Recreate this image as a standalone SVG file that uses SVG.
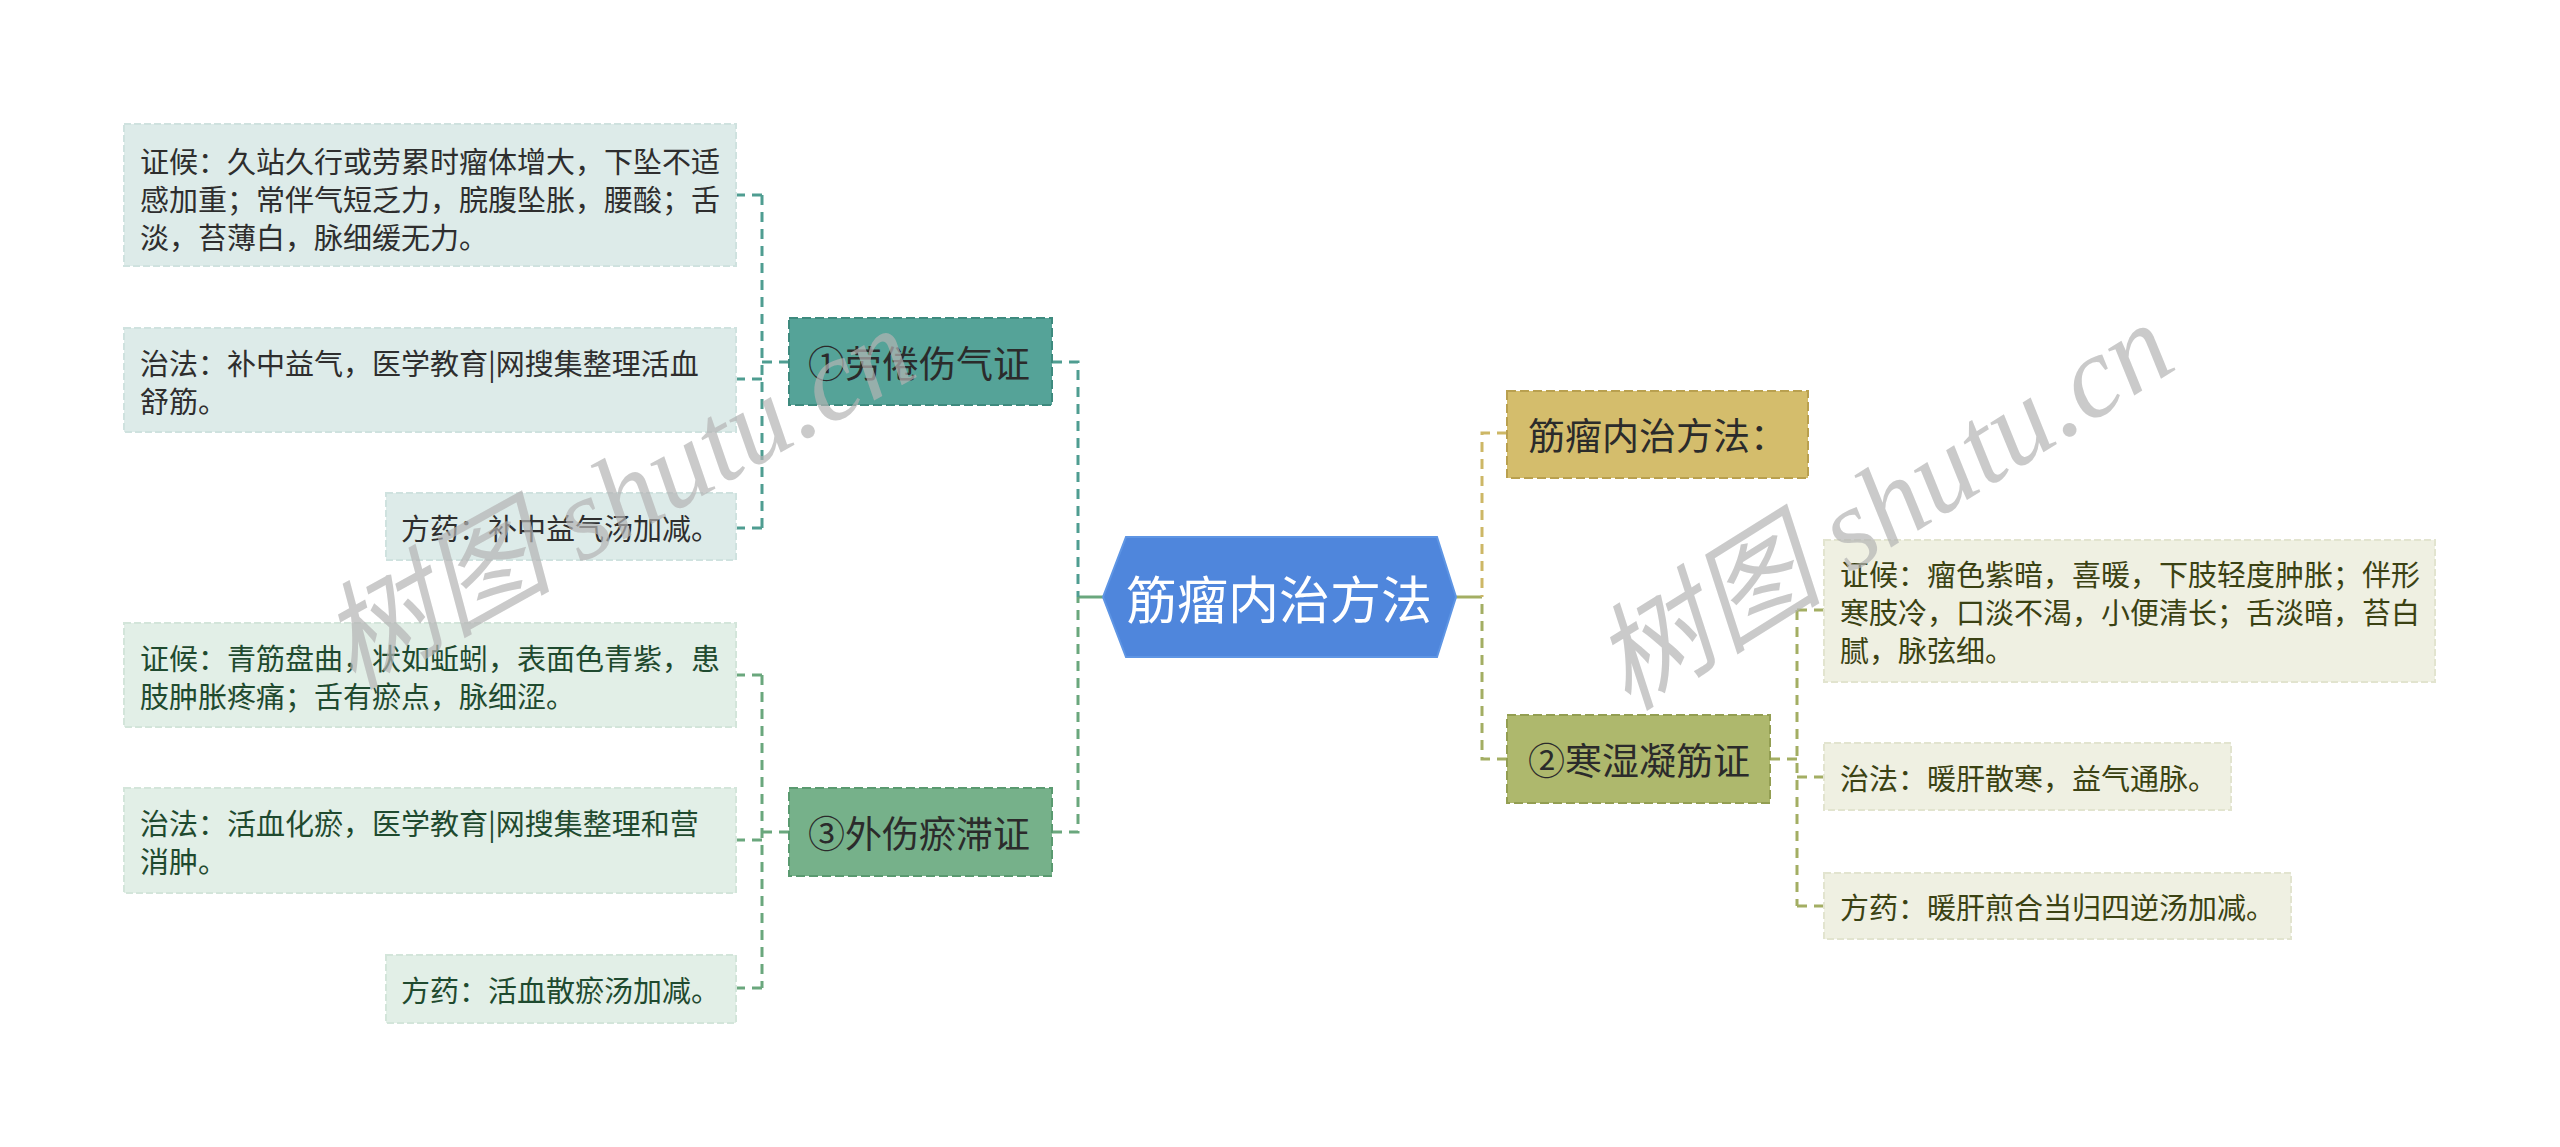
<svg xmlns="http://www.w3.org/2000/svg" width="2560" height="1147" viewBox="0 0 2560 1147">
<style>
text{font-family:"Noto Sans CJK SC","Noto Sans",sans-serif;dominant-baseline:central}
.leaf{font-size:29px}
.nt{font-size:37px;fill:#2b2b2b}
.c{fill:none;stroke-width:3;stroke-dasharray:10 7}
.t{stroke:#4f9d91}.g{stroke:#6aa77d}.y{stroke:#cdb766}.o{stroke:#a3ae63}
.lb{stroke-width:2;stroke-dasharray:7 3}
.wm{font-family:"Liberation Serif","Noto Sans CJK SC",serif;font-size:116px;fill:#b4b4b4;fill-opacity:0.7;font-style:italic;dominant-baseline:auto}
</style>
<rect width="2560" height="1147" fill="#ffffff"/>
<g id="connectors">
<path class="c g" d="M1103,597 H1078" style="stroke-dasharray:none"/>
<path class="c o" d="M1456,597 H1482" style="stroke-dasharray:none"/>
<path class="c t" d="M1052,362 H1078 V597"/>
<path class="c g" d="M1052,832 H1078 V597"/>
<path class="c y" d="M1507,433 H1482 V597"/>
<path class="c o" d="M1507,759 H1482 V597"/>
<path class="c t" d="M789,362 H762 M762,195 V528 M762,195 H736 M762,379 H736 M762,528 H736"/>
<path class="c g" d="M789,832 H762 M762,675 V988 M762,675 H736 M762,840 H736 M762,988 H736"/>
<path class="c o" d="M1770,759 H1797 M1797,610 V906 M1797,610 H1824 M1797,777 H1824 M1797,906 H1824"/>
</g>
<g id="root">
<polygon points="1103,597 1126,537 1437,537 1456,597 1437,657 1126,657" fill="#4f86dc" stroke="#5e95e4" stroke-width="2"/>
<text x="1279" y="597" text-anchor="middle" font-size="51" fill="#ffffff">筋瘤内治方法</text>
</g>
<g id="n1">
<rect x="789" y="318" width="263" height="87" fill="#55a398" stroke="#3e8a7e" stroke-width="2" stroke-dasharray="9 4"/>
<text class="nt" x="808" y="362">①劳倦伤气证</text>
</g>
<g id="n3">
<rect x="789" y="788" width="263" height="88" fill="#76b18a" stroke="#5a9a70" stroke-width="2" stroke-dasharray="9 4"/>
<text class="nt" x="808" y="832">③外伤瘀滞证</text>
</g>
<g id="n0">
<rect x="1507" y="391" width="301" height="87" fill="#d4bd6c" stroke="#b9a04f" stroke-width="2" stroke-dasharray="9 4"/>
<text class="nt" x="1528" y="434">筋瘤内治方法：</text>
</g>
<g id="n2">
<rect x="1507" y="715" width="263" height="88" fill="#aeb86d" stroke="#939e52" stroke-width="2" stroke-dasharray="9 4"/>
<text class="nt" x="1528" y="759">②寒湿凝筋证</text>
</g>
<g id="a1">
<rect x="124" y="124" width="612" height="142" fill="#ddebe9" stroke="#cfe2df" class="lb"/>
<text class="leaf" fill="#2e2e2e" x="140" y="160">证候：久站久行或劳累时瘤体增大，下坠不适</text>
<text class="leaf" fill="#2e2e2e" x="140" y="198">感加重；常伴气短乏力，脘腹坠胀，腰酸；舌</text>
<text class="leaf" fill="#2e2e2e" x="140" y="236">淡，苔薄白，脉细缓无力。</text>
</g>
<g id="a2">
<rect x="124" y="328" width="612" height="104" fill="#ddebe9" stroke="#cfe2df" class="lb"/>
<text class="leaf" fill="#2e2e2e" x="140" y="362">治法：补中益气，医学教育|网搜集整理活血</text>
<text class="leaf" fill="#2e2e2e" x="140" y="400">舒筋。</text>
</g>
<g id="a3">
<rect x="386" y="493" width="350" height="67" fill="#ddebe9" stroke="#cfe2df" class="lb"/>
<text class="leaf" fill="#2e2e2e" x="401" y="527">方药：补中益气汤加减。</text>
</g>
<g id="c1">
<rect x="124" y="623" width="612" height="104" fill="#e2efe7" stroke="#d3e5da" class="lb"/>
<text class="leaf" fill="#1f4a2f" x="140" y="657">证候：青筋盘曲，状如蚯蚓，表面色青紫，患</text>
<text class="leaf" fill="#1f4a2f" x="140" y="695">肢肿胀疼痛；舌有瘀点，脉细涩。</text>
</g>
<g id="c2">
<rect x="124" y="788" width="612" height="105" fill="#e2efe7" stroke="#d3e5da" class="lb"/>
<text class="leaf" fill="#1f4a2f" x="140" y="822">治法：活血化瘀，医学教育|网搜集整理和营</text>
<text class="leaf" fill="#1f4a2f" x="140" y="860">消肿。</text>
</g>
<g id="c3">
<rect x="386" y="955" width="350" height="68" fill="#e2efe7" stroke="#d3e5da" class="lb"/>
<text class="leaf" fill="#1f4a2f" x="401" y="989">方药：活血散瘀汤加减。</text>
</g>
<g id="e1">
<rect x="1824" y="540" width="611" height="142" fill="#eff0e2" stroke="#e2e4cf" class="lb"/>
<text class="leaf" fill="#3b4213" x="1840" y="573">证候：瘤色紫暗，喜暖，下肢轻度肿胀；伴形</text>
<text class="leaf" fill="#3b4213" x="1840" y="611">寒肢冷，口淡不渴，小便清长；舌淡暗，苔白</text>
<text class="leaf" fill="#3b4213" x="1840" y="649">腻，脉弦细。</text>
</g>
<g id="e2">
<rect x="1824" y="743" width="407" height="67" fill="#eff0e2" stroke="#e2e4cf" class="lb"/>
<text class="leaf" fill="#3b4213" x="1840" y="777">治法：暖肝散寒，益气通脉。</text>
</g>
<g id="e3">
<rect x="1824" y="873" width="467" height="66" fill="#eff0e2" stroke="#e2e4cf" class="lb"/>
<text class="leaf" fill="#3b4213" x="1840" y="906">方药：暖肝煎合当归四逆汤加减。</text>
</g>
<g id="watermark">
<text class="wm" x="0" y="0" transform="translate(352,690) rotate(-29)">树图 shutu.cn</text>
<text class="wm" x="0" y="0" transform="translate(1628,712) rotate(-32)">树图 shutu.cn</text>
</g>
</svg>
